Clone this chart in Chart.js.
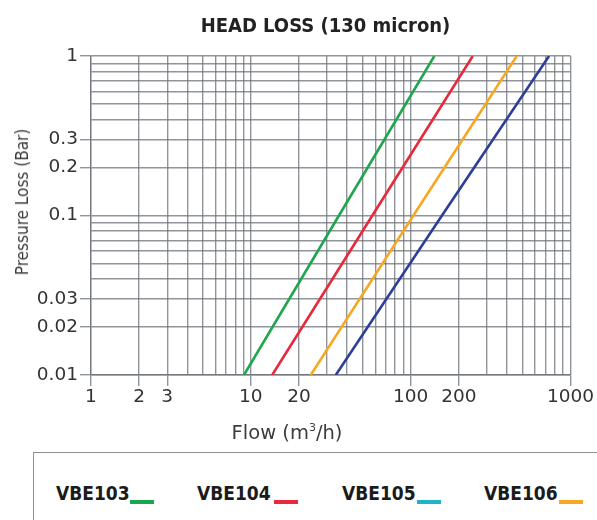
<!DOCTYPE html>
<html>
<head>
<meta charset="utf-8">
<script src="https://cdn.jsdelivr.net/npm/chart.js@4.4.1/dist/chart.umd.min.js"></script>
<style>
  html, body { margin: 0; padding: 0; background: #fff; width: 597px; height: 520px; overflow: hidden; }
  #wrap { position: absolute; left: 0; top: 0; width: 597px; height: 440px; }
  .t { position: absolute; white-space: nowrap; font-family: "DejaVu Sans", sans-serif; color: #3c3c3c; }
  #title { left: 0; width: 651px; top: 13px; text-align: center; font-weight: bold; font-size: 20px; color: #222; font-family: "DejaVu Sans Condensed", "DejaVu Sans", sans-serif; }
  #ytitle { left: 22px; top: 202px; font-size: 17px; font-family: "DejaVu Sans Condensed", "DejaVu Sans", sans-serif; transform: translate(-50%, -50%) rotate(-90deg); }
  #xtitle { left: 287px; top: 432px; font-size: 19.5px; transform: translate(-50%, -50%); }
  #legend { position: absolute; left: 33px; top: 452px; width: 620px; height: 120px; border: 1.5px solid #8f8f8f; box-sizing: border-box; }
  .li { position: absolute; top: 29px; font-family: "DejaVu Sans Condensed", "DejaVu Sans", sans-serif; font-weight: bold; font-size: 19px; color: #1b1b1b; }
  .sw { position: absolute; height: 4px; width: 24px; }
</style>
</head>
<body>
<div id="wrap"><canvas id="c"></canvas></div>
<div id="title" class="t"></div>
<div id="ytitle" class="t"></div>
<div id="xtitle" class="t"></div>
<div id="legend"></div>
<script>
// ---- data ----
const titleText = "HEAD LOSS (130 micron)";
const xTitle = "Flow (m\u00b3/h)";
const yTitle = "Pressure Loss (Bar)";

const seriesNames = ["VBE103", "VBE104", "VBE105", "VBE106"];
const lineColors = ["#1fa64f", "#e8283b", "#f6a823", "#2e3f97"];
// each line: flow values at pressure losses 0.01, 0.1, 1 bar
const pressurePts = [0.01, 0.1, 1];
const flowVBE103 = [9.06, 35.6, 140.7];
const flowVBE104 = [13.6, 57.6, 244.7];
const flowVBE105 = [23.7, 104, 461];
const flowVBE106 = [34.0, 157, 734.6];
const flows = [flowVBE103, flowVBE104, flowVBE105, flowVBE106];

const legendNames = ["VBE103", "VBE104", "VBE105", "VBE106"];
const legendColors = ["#1aa650", "#e8283b", "#1cb4c6", "#f6a823"];

const xGrid = [1,2,3,4,5,6,7,8,9,10,20,30,40,50,60,70,80,90,100,200,300,400,500,600,700,800,900,1000];
const xLabels = [1,2,3,10,20,100,200,1000];
const yGrid = [0.01,0.02,0.03,0.04,0.05,0.06,0.07,0.08,0.09,0.1,0.2,0.3,0.4,0.5,0.6,0.7,0.8,0.9,1];
const yLabels = [0.01,0.02,0.03,0.1,0.2,0.3,1];

// ---- text ----
document.getElementById('title').textContent = titleText;
document.getElementById('ytitle').textContent = yTitle;
document.getElementById('xtitle').innerHTML = 'Flow (m<sup style="font-size:11px">3</sup>/h)';

const legendPos = [[22, 96], [163, 240], [308, 383], [450, 525]];
const lg = document.getElementById('legend');
legendNames.forEach((n, i) => {
  const s = document.createElement('span');
  s.className = 'li'; s.textContent = n; s.style.left = legendPos[i][0] + 'px';
  lg.appendChild(s);
  const b = document.createElement('span');
  b.className = 'sw'; b.style.left = legendPos[i][1] + 'px'; b.style.top = '47px';
  b.style.background = legendColors[i];
  lg.appendChild(b);
});

// ---- chart ----
const gridColor = 'rgba(108,114,120,0.75)';
const datasets = seriesNames.map((n, i) => ({
  label: n,
  data: pressurePts.map((p, k) => ({ x: flows[i][k], y: p })),
  borderColor: lineColors[i],
  backgroundColor: lineColors[i],
  borderWidth: 2.6,
  pointRadius: 0,
  tension: 0,
  fill: false
}));

const inList = (list, v) => list.some(a => Math.abs(a - v) < 1e-9 * Math.max(1, a));

new Chart(document.getElementById('c'), {
  type: 'line',
  data: { datasets },
  options: {
    responsive: true,
    maintainAspectRatio: false,
    animation: false,
    layout: { padding: { left: 0, right: 26.5, top: 56, bottom: 35 } },
    plugins: { legend: { display: false }, tooltip: { enabled: false }, title: { display: false } },
    scales: {
      x: {
        type: 'logarithmic',
        min: 1, max: 1000,
        afterBuildTicks: (s) => { s.ticks = xGrid.map(v => ({ value: v })); },
        afterFit: (s) => { s.height = 30; },
        ticks: {
          autoSkip: false, maxRotation: 0, minRotation: 0, padding: 0,
          color: '#333', font: { family: 'DejaVu Sans', size: 18.5 },
          callback: (v) => inList(xLabels, v) ? String(v) : ''
        },
        grid: {
          color: gridColor, lineWidth: 1.4, tickLength: 11,
          tickColor: (ctx) => (ctx.tick && inList(xLabels, ctx.tick.value)) ? gridColor : 'rgba(0,0,0,0)'
        },
        border: { display: true, color: gridColor, width: 1.4 }
      },
      y: {
        type: 'logarithmic',
        min: 0.01, max: 1,
        afterBuildTicks: (s) => { s.ticks = yGrid.map(v => ({ value: v })); },
        afterFit: (s) => { s.width = 91; },
        ticks: {
          autoSkip: false, padding: 2,
          color: '#333', font: { family: 'DejaVu Sans', size: 18.5 },
          callback: (v) => inList(yLabels, v) ? String(v) : ''
        },
        grid: {
          color: gridColor, lineWidth: 1.4, tickLength: 11,
          tickColor: (ctx) => (ctx.tick && inList(yLabels, ctx.tick.value)) ? gridColor : 'rgba(0,0,0,0)'
        },
        border: { display: true, color: gridColor, width: 1.4 }
      }
    }
  }
});
</script>
</body>
</html>
